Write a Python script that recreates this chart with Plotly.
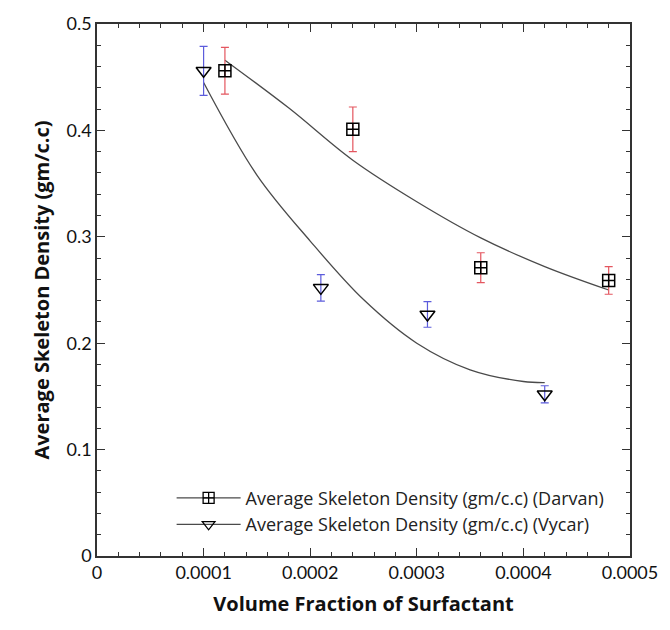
import plotly.graph_objects as go

# Measured data
darvan_x = [0.00012, 0.00024, 0.00036, 0.00048]
darvan_y = [0.456, 0.401, 0.271, 0.259]
darvan_err = [0.022, 0.021, 0.014, 0.013]

vycar_x = [0.00010, 0.00021, 0.00031, 0.00042]
vycar_y = [0.456, 0.252, 0.227, 0.152]
vycar_err = [0.023, 0.0125, 0.012, 0.008]

# Fit curves
darvan_fit_x = [0.00012, 0.00018, 0.00024, 0.00030, 0.00036, 0.00042, 0.00048]
darvan_fit_y = [0.466, 0.421, 0.372, 0.333, 0.299, 0.272, 0.250]

vycar_fit_x = [0.00010, 0.00015, 0.00020, 0.00025, 0.00030, 0.00035, 0.00040, 0.00042]
vycar_fit_y = [0.445, 0.358, 0.296, 0.241, 0.200, 0.175, 0.164, 0.163]

x_ticks = [0, 0.0001, 0.0002, 0.0003, 0.0004, 0.0005]
x_tick_labels = ["0", "0.0001", "0.0002", "0.0003", "0.0004", "0.0005"]
y_ticks = [0, 0.1, 0.2, 0.3, 0.4, 0.5]
y_tick_labels = ["0", "0.1", "0.2", "0.3", "0.4", "0.5"]

name_d = "Average Skeleton Density (gm/c.c) (Darvan)"
name_v = "Average Skeleton Density (gm/c.c) (Vycar)"

LINE = "#4a4a4a"
RED = "#e4565f"
BLUE = "#5c5cdc"

fig = go.Figure()

fig.add_trace(go.Scatter(x=darvan_fit_x, y=darvan_fit_y, mode="lines",
                         line=dict(color=LINE, width=1.3, shape="spline", smoothing=1.0),
                         showlegend=False, hoverinfo="skip"))
fig.add_trace(go.Scatter(x=vycar_fit_x, y=vycar_fit_y, mode="lines",
                         line=dict(color=LINE, width=1.3, shape="spline", smoothing=1.0),
                         showlegend=False, hoverinfo="skip"))

fig.add_trace(go.Scatter(x=darvan_x, y=darvan_y, mode="markers",
                         marker=dict(symbol="square-cross-open", size=12, color="black",
                                     line=dict(width=1.5)),
                         error_y=dict(type="data", array=darvan_err, color=RED,
                                      thickness=1.2, width=4),
                         showlegend=False))
fig.add_trace(go.Scatter(x=vycar_x, y=vycar_y, mode="markers",
                         marker=dict(symbol="triangle-down-open", size=13, color="black",
                                     line=dict(width=1.5)),
                         error_y=dict(type="data", array=vycar_err, color=BLUE,
                                      thickness=1.2, width=4),
                         showlegend=False))

# legend entries
fig.add_trace(go.Scatter(x=[None], y=[None], mode="lines+markers", name=name_d,
                         line=dict(color=LINE, width=1.3),
                         marker=dict(symbol="square-cross-open", size=11, color="black",
                                     line=dict(width=1.3))))
fig.add_trace(go.Scatter(x=[None], y=[None], mode="lines+markers", name=name_v,
                         line=dict(color=LINE, width=1.3),
                         marker=dict(symbol="triangle-down-open", size=11, color="black",
                                     line=dict(width=1.3))))

axis_common = dict(
    showline=True, linecolor="#333333", linewidth=1.6, mirror="ticks",
    ticks="inside", ticklen=8, tickwidth=1.4, tickcolor="#333333",
    showgrid=False, zeroline=False,
    tickfont=dict(family="Lato", size=18, color="#111111"),
)

fig.update_xaxes(range=[0, 0.0005], tickvals=x_ticks, ticktext=x_tick_labels,
                 minor=dict(dtick=0.00002, ticks="inside", ticklen=4, tickwidth=1.2,
                            tickcolor="#333333"),
                 title=dict(text="<b>Volume Fraction of Surfactant</b>",
                            font=dict(family="Open Sans", size=20, color="#111111"), standoff=15),
                 **axis_common)
fig.update_yaxes(range=[0, 0.5], tickvals=y_ticks, ticktext=y_tick_labels,
                 minor=dict(dtick=0.02, ticks="inside", ticklen=4, tickwidth=1.2,
                            tickcolor="#333333"),
                 title=dict(text="<b>Average Skeleton Density (gm/c.c)</b>",
                            font=dict(family="Open Sans", size=20, color="#111111"), standoff=11),
                 **axis_common)

fig.update_layout(
    width=670, height=630,
    margin=dict(l=97, r=31, t=18, b=74),
    plot_bgcolor="white", paper_bgcolor="white",
    legend=dict(x=0.14, y=0.025, xanchor="left", yanchor="bottom",
                bgcolor="rgba(0,0,0,0)", font=dict(family="Open Sans", size=18, color="#222222"),
                itemwidth=64, tracegroupgap=0),
)

fig.write_html("out.html")
